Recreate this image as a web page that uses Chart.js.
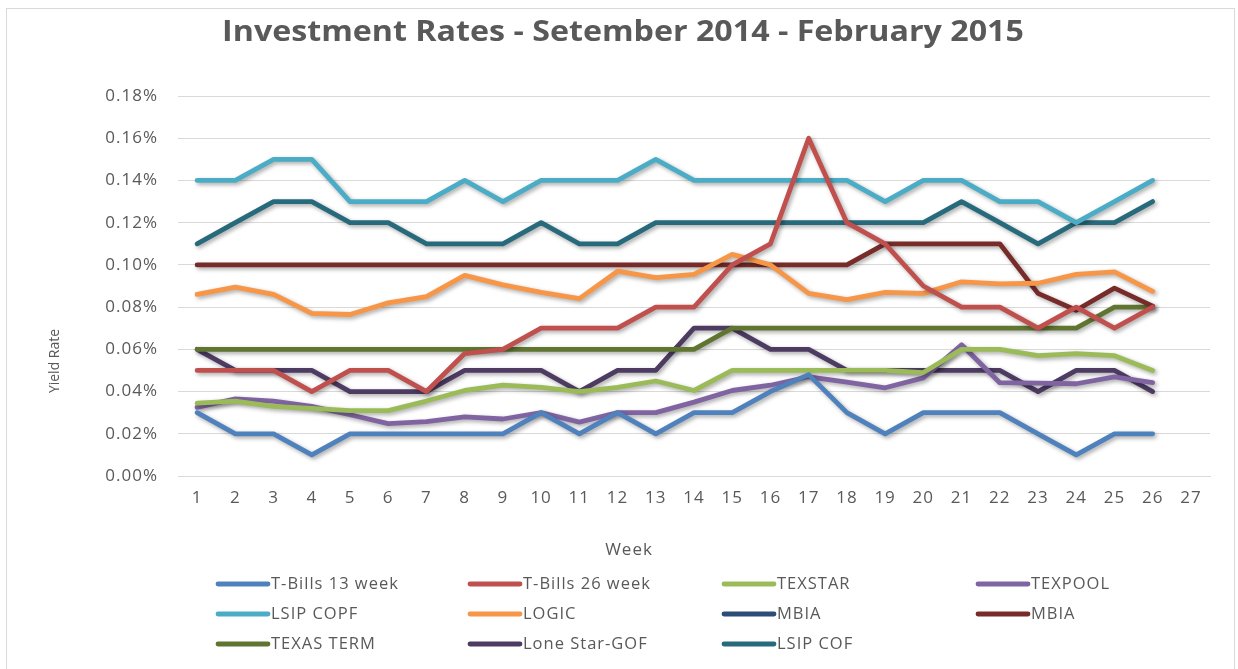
<!DOCTYPE html>
<html lang="en">
<head>
    <meta charset="UTF-8">
    <title>Investment Rates - Setember 2014 - February 2015</title>
    <script src="https://cdn.jsdelivr.net/npm/chart.js"></script>
    <style>
        body { margin: 0; background: #fff; }
    </style>
</head>
<body>
    <canvas id="ratesChart" width="1238" height="669"></canvas>

    <script>
        // weeks on the x axis (27 labels, data only for 26)
        const weeks = ['1','2','3','4','5','6','7','8','9','10','11','12','13','14','15','16','17','18','19','20','21','22','23','24','25','26','27'];
        const yTicks = [0, 0.02, 0.04, 0.06, 0.08, 0.10, 0.12, 0.14, 0.16, 0.18];

        // values in percent
        const tBills13 = [0.03,0.02,0.02,0.01,0.02,0.02,0.02,0.02,0.02,0.03,0.02,0.03,0.02,0.03,0.03,0.04,0.048,0.03,0.02,0.03,0.03,0.03,0.02,0.01,0.02,0.02];
        const tBills26 = [0.05,0.05,0.05,0.04,0.05,0.05,0.04,0.058,0.06,0.07,0.07,0.07,0.08,0.08,0.10,0.11,0.16,0.12,0.11,0.09,0.08,0.08,0.07,0.08,0.07,0.08];
        const texstar = [0.0345,0.0355,0.033,0.032,0.031,0.031,0.0355,0.0405,0.043,0.042,0.040,0.042,0.045,0.0405,0.05,0.05,0.05,0.05,0.05,0.049,0.06,0.06,0.057,0.058,0.057,0.05];
        const texpool = [0.0325,0.0365,0.0355,0.033,0.029,0.0248,0.0258,0.028,0.027,0.030,0.0255,0.030,0.030,0.035,0.0405,0.043,0.047,0.0445,0.0418,0.0465,0.0622,0.0442,0.0440,0.0437,0.047,0.0442];
        const lsipCopf = [0.14,0.14,0.15,0.15,0.13,0.13,0.13,0.14,0.13,0.14,0.14,0.14,0.15,0.14,0.14,0.14,0.14,0.14,0.13,0.14,0.14,0.13,0.13,0.12,0.13,0.14];
        const logic = [0.086,0.0895,0.086,0.077,0.0765,0.082,0.085,0.095,0.0905,0.087,0.084,0.097,0.094,0.0955,0.105,0.1,0.0865,0.0835,0.087,0.0865,0.092,0.091,0.0913,0.0955,0.0967,0.0875];
        const mbiaNavy = [];
        const mbia = [0.10,0.10,0.10,0.10,0.10,0.10,0.10,0.10,0.10,0.10,0.10,0.10,0.10,0.10,0.10,0.10,0.10,0.10,0.11,0.11,0.11,0.11,0.0865,0.0785,0.089,0.0805];
        const texasTerm = [0.06,0.06,0.06,0.06,0.06,0.06,0.06,0.06,0.06,0.06,0.06,0.06,0.06,0.06,0.07,0.07,0.07,0.07,0.07,0.07,0.07,0.07,0.07,0.07,0.08,0.08];
        const loneStar = [0.06,0.05,0.05,0.05,0.04,0.04,0.04,0.05,0.05,0.05,0.04,0.05,0.05,0.07,0.07,0.06,0.06,0.05,0.05,0.05,0.05,0.05,0.04,0.05,0.05,0.04];
        const lsipCof = [0.11,0.12,0.13,0.13,0.12,0.12,0.11,0.11,0.11,0.12,0.11,0.11,0.12,0.12,0.12,0.12,0.12,0.12,0.12,0.12,0.13,0.12,0.11,0.12,0.12,0.13];

        const chartTitle = 'Investment Rates - Setember 2014 - February 2015';
        const textColor = '#595959';
        const fontFamily = '"Open Sans", "Noto Sans", sans-serif';

        function serie(label, data, color) {
            return {
                label: label,
                data: data,
                borderColor: color,
                backgroundColor: color,
                borderWidth: 4.8,
                borderJoinStyle: 'round',
                borderCapStyle: 'round',
                pointRadius: 0,
                tension: 0,
                fill: false
            };
        }

        const datasets = [
            serie('T-Bills 13 week', tBills13, '#4F81BD'),
            serie('T-Bills 26 week', tBills26, '#C0504D'),
            serie('TEXSTAR', texstar, '#9BBB59'),
            serie('TEXPOOL', texpool, '#8064A2'),
            serie('LSIP COPF', lsipCopf, '#4BACC6'),
            serie('LOGIC', logic, '#F79646'),
            serie('MBIA', mbiaNavy, '#2C4D75'),
            serie('MBIA', mbia, '#772C2A'),
            serie('TEXAS TERM', texasTerm, '#5F7530'),
            serie('Lone Star-GOF', loneStar, '#4D3B62'),
            serie('LSIP COF', lsipCof, '#276A7C')
        ];

        // the Excel text is a bit wide: small letter spacing for tick labels
        const spacingPlugin = {
            id: 'spacing',
            beforeDraw(chart) {
                chart.ctx.letterSpacing = '1px';
            }
        };

        // drop shadow under the lines, like Excel
        const shadowPlugin = {
            id: 'lineShadow',
            beforeDatasetsDraw(chart) {
                const ctx = chart.ctx;
                ctx.save();
                ctx.shadowColor = 'rgba(0,0,0,0.35)';
                ctx.shadowBlur = 4;
                ctx.shadowOffsetX = 2;
                ctx.shadowOffsetY = 2;
            },
            afterDatasetsDraw(chart) {
                chart.ctx.restore();
            }
        };

        // title, axis titles, legend grid (4 columns) and outer frame
        const extrasPlugin = {
            id: 'extras',
            afterDraw(chart) {
                const ctx = chart.ctx;
                ctx.save();
                ctx.fillStyle = textColor;
                ctx.textBaseline = 'middle';
                ctx.textAlign = 'center';

                // title
                ctx.save();
                ctx.letterSpacing = '0px';
                ctx.translate(623, 33);
                ctx.scale(1.15, 1);
                ctx.font = 'bold 28px ' + fontFamily;
                ctx.fillText(chartTitle, 0, 0);
                ctx.restore();

                // x title
                ctx.letterSpacing = '1px';
                ctx.font = '17px ' + fontFamily;
                ctx.fillText('Week', 629, 550);

                // y title
                ctx.save();
                ctx.letterSpacing = '0px';
                ctx.translate(55, 361);
                ctx.rotate(-Math.PI / 2);
                ctx.font = '14px ' + fontFamily;
                ctx.fillText('Yield Rate', 0, 0);
                ctx.restore();

                // legend
                const colX = [218, 470, 724, 978];
                const rowY = [584, 614, 644];
                ctx.letterSpacing = '1px';
                ctx.font = '16.5px ' + fontFamily;
                ctx.textAlign = 'left';
                chart.data.datasets.forEach((ds, i) => {
                    const x = colX[i % 4];
                    const y = rowY[Math.floor(i / 4)];
                    ctx.strokeStyle = ds.borderColor;
                    ctx.lineWidth = 4.8;
                    ctx.lineCap = 'round';
                    ctx.beginPath();
                    ctx.moveTo(x, y);
                    ctx.lineTo(x + 50, y);
                    ctx.stroke();
                    ctx.fillStyle = textColor;
                    ctx.fillText(ds.label, x + 53, y);
                });

                // frame
                ctx.strokeStyle = '#D9D9D9';
                ctx.lineWidth = 1;
                ctx.strokeRect(6.5, 8.5, 1228, 680);
                ctx.restore();
            }
        };

        const ctx = document.getElementById('ratesChart').getContext('2d');
        const ratesChart = new Chart(ctx, {
            type: 'line',
            data: {
                labels: weeks,
                datasets: datasets
            },
            plugins: [spacingPlugin, shadowPlugin, extrasPlugin],
            options: {
                responsive: false,
                animation: false,
                layout: {
                    padding: { left: 0, right: 28, top: 96, bottom: 103 }
                },
                plugins: {
                    legend: { display: false },
                    tooltip: { enabled: false },
                    title: { display: false }
                },
                scales: {
                    x: {
                        offset: true,
                        afterFit(scale) { scale.height = 90; },
                        grid: { display: false, drawTicks: false },
                        border: { display: true, color: '#D9D9D9', width: 1 },
                        ticks: {
                            color: textColor,
                            font: { family: fontFamily, size: 17 },
                            padding: 12,
                            maxRotation: 0,
                            autoSkip: false
                        }
                    },
                    y: {
                        min: yTicks[0],
                        max: yTicks[yTicks.length - 1],
                        afterFit(scale) { scale.width = 178; },
                        afterBuildTicks(scale) {
                            scale.ticks = yTicks.map(v => ({ value: v }));
                        },
                        grid: { color: '#D9D9D9', lineWidth: 1, drawTicks: false },
                        border: { display: false },
                        ticks: {
                            color: textColor,
                            font: { family: fontFamily, size: 17 },
                            padding: 20,
                            callback: v => v.toFixed(2) + '%'
                        }
                    }
                }
            }
        });
    </script>
</body>
</html>
